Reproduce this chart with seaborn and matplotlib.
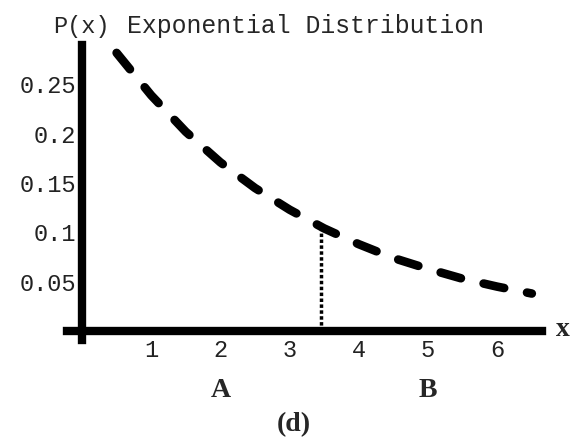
import matplotlib
matplotlib.use("Agg")
import matplotlib.pyplot as plt
import seaborn as sns
import pandas as pd

# Exponential density P(x), sampled along the plotted range
x_vals = [0.5, 1.0, 1.5, 2.0, 2.5, 3.0, 3.5, 4.0, 4.5, 5.0, 5.5, 6.0, 6.5]
p_vals = [0.282, 0.239, 0.202, 0.171, 0.145, 0.123, 0.104, 0.088, 0.074, 0.063, 0.053, 0.045, 0.038]

# Boundary between regions A and B
cut_x = 3.45
cut_p = 0.105

x_ticks = [1, 2, 3, 4, 5, 6]
y_ticks = [0.05, 0.1, 0.15, 0.2, 0.25]
y_tick_labels = ["0.05", "0.1", "0.15", "0.2", "0.25"]

title_text = "Exponential Distribution"
y_label = "P(x)"
x_label = "x"
region_labels = ["A", "B"]
region_pos = [2.0, 5.0]
panel_label = "(d)"

sns.set_theme(style="white")
plt.rcParams["font.family"] = ["Liberation Mono", "DejaVu Sans Mono"]

W, H = 579, 447
fig = plt.figure(figsize=(W / 100, H / 100), dpi=100)
fig.patch.set_facecolor("white")

# axes box in pixels: left 67, right 542, top 45, bottom 340
ax = fig.add_axes([67 / W, 1 - 340 / H, (542 - 67) / W, (340 - 45) / H])
ax.set_facecolor("white")

df = pd.DataFrame({"x": x_vals, "P": p_vals})
sns.lineplot(data=df, x="x", y="P", ax=ax, color="black", lw=6.2, sort=False)
curve = ax.lines[0]
curve.set_dashes((2.45, 2.7))
curve.set_dash_capstyle("round")

ax.plot([cut_x, cut_x], [0, cut_p], color="black", lw=2.5, linestyle=(0, (1, 0.7)))

ax.set_xlim(-0.217, 6.647)
ax.set_ylim(-0.0091, 0.290)

for side in ["top", "right"]:
    ax.spines[side].set_visible(False)
ax.spines["left"].set_position(("data", 0))
ax.spines["bottom"].set_position(("data", 0))
for side in ["left", "bottom"]:
    ax.spines[side].set_linewidth(6)
    ax.spines[side].set_color("black")
    ax.spines[side].set_zorder(3)

ax.set_xticks(x_ticks)
ax.set_xticklabels([str(t) for t in x_ticks])
ax.set_yticks(y_ticks)
ax.set_yticklabels(y_tick_labels)
ax.tick_params(axis="both", length=0, labelsize=17, colors="#222222")
ax.tick_params(axis="x", pad=6)
ax.tick_params(axis="y", pad=4)
ax.set_xlabel("")
ax.set_ylabel("")

fig.text(53 / W, 1 - 33 / H, y_label, fontsize=17, ha="left", va="baseline")
fig.text(127 / W, 1 - 33 / H, title_text, fontsize=17.8, ha="left", va="baseline")

serif = ["Liberation Serif", "DejaVu Serif"]
fig.text(563 / W, 1 - 330 / H, x_label, fontsize=20, fontweight="bold",
         family=serif, ha="center", va="center")
for lab, xp in zip(region_labels, region_pos):
    ax.text(xp, -0.06, lab, fontsize=20, fontweight="bold", family=serif,
            ha="center", va="center")
fig.text(294 / W, 1 - 425 / H, panel_label, fontsize=20, fontweight="bold",
         family=serif, ha="center", va="center")

fig.savefig("out.png", dpi=100, facecolor="white")
